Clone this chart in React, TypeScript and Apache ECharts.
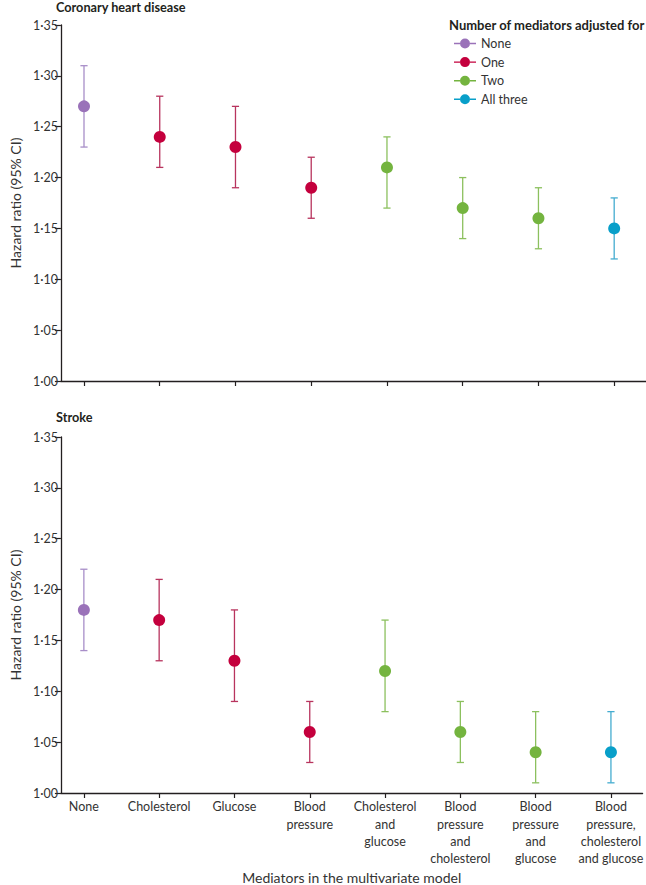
import React, { useEffect, useRef } from "react";
import * as echarts from "echarts";

const categories = [
  "None",
  "Cholesterol",
  "Glucose",
  "Blood\npressure",
  "Cholesterol\nand\nglucose",
  "Blood\npressure\nand\ncholesterol",
  "Blood\npressure\nand\nglucose",
  "Blood\npressure,\ncholesterol\nand glucose",
];
const groupOfCategory = [0, 1, 1, 1, 2, 2, 2, 3];
const groupNames = ["None", "One", "Two", "All three"];
const groupColors = ["#9a72b9", "#c4003d", "#74b43f", "#089fc9"];
const barColors = ["#a88ec8", "#b8345e", "#8cc05e", "#44acd0"];

const chdHR = [1.27, 1.24, 1.23, 1.19, 1.21, 1.17, 1.16, 1.15];
const chdLow = [1.23, 1.21, 1.19, 1.16, 1.17, 1.14, 1.13, 1.12];
const chdHigh = [1.31, 1.28, 1.27, 1.22, 1.24, 1.2, 1.19, 1.18];

const strokeHR = [1.18, 1.17, 1.13, 1.06, 1.12, 1.06, 1.04, 1.04];
const strokeLow = [1.14, 1.13, 1.09, 1.03, 1.08, 1.03, 1.01, 1.01];
const strokeHigh = [1.22, 1.21, 1.18, 1.09, 1.17, 1.09, 1.08, 1.08];

const FONT = "Lato";
const AXIS_COLOR = "#231f20";
const TEXT_COLOR = "#333333";

const legendIcon =
  "path://M0,4.3 L6,4.3 L6,5.7 L0,5.7 Z M16,4.3 L22,4.3 L22,5.7 L16,5.7 Z M11,0 A5,5 0 1,1 11,10 A5,5 0 1,1 11,0 Z";

function App() {
  const ref = useRef<HTMLDivElement>(null);

  useEffect(() => {
    if (!ref.current) return;
    const chart = echarts.init(ref.current, undefined, { renderer: "svg" });

    const panels = [
      { hr: chdHR, low: chdLow, high: chdHigh, showLabels: false },
      { hr: strokeHR, low: strokeLow, high: strokeHigh, showLabels: true },
    ];

    const xAxis = panels.map((p, i) => ({
      type: "value",
      gridIndex: i,
      min: -0.305,
      max: 7.42,
      splitLine: { show: false },
      axisLine: { show: true, onZero: false, lineStyle: { color: AXIS_COLOR, width: 1.3 } },
      axisTick: {
        show: true,
        length: 5,
        customValues: categories.map((_, k) => k),
        lineStyle: { color: AXIS_COLOR, width: 1.2 },
      },
      axisLabel: {
        show: p.showLabels,
        customValues: categories.map((_, k) => k),
        formatter: (v: number) => categories[Math.round(v)] ?? "",
        fontFamily: FONT,
        fontSize: 12.5,
        lineHeight: 17.4,
        color: TEXT_COLOR,
        margin: 5,
        align: "center",
      },
      name: p.showLabels ? "Mediators in the multivariate model" : "",
      nameLocation: "middle",
      nameGap: 77,
      nameTextStyle: { fontFamily: FONT, fontSize: 14, color: TEXT_COLOR },
    }));

    const yAxis = panels.map((_, i) => ({
      type: "value",
      gridIndex: i,
      min: 1.0,
      max: 1.35,
      interval: 0.05,
      splitLine: { show: false },
      axisLine: { show: true, onZero: false, lineStyle: { color: AXIS_COLOR, width: 1.3 } },
      axisTick: { show: true, length: 6, lineStyle: { color: AXIS_COLOR, width: 1.2 } },
      axisLabel: {
        fontFamily: FONT,
        fontSize: 12.5,
        color: TEXT_COLOR,
        margin: 3,
        formatter: (v: number) => v.toFixed(2).replace(".", "\u00b7"),
      },
      name: "Hazard ratio (95% CI)",
      nameLocation: "middle",
      nameRotate: 90,
      nameGap: 38,
      nameTextStyle: { fontFamily: FONT, fontSize: 14, color: TEXT_COLOR },
    }));

    const series: any[] = [];
    panels.forEach((p, i) => {
      series.push({
        type: "custom",
        xAxisIndex: i,
        yAxisIndex: i,
        silent: true,
        z: 1,
        data: categories.map((_, k) => [k, p.low[k], p.high[k], groupOfCategory[k]]),
        renderItem: (params: any, api: any) => {
          const x = api.value(0);
          const lo = api.coord([x, api.value(1)]);
          const hi = api.coord([x, api.value(2)]);
          const color = barColors[api.value(3)];
          const cap = 3.6;
          const style = { stroke: color, lineWidth: 1.3 };
          return {
            type: "group",
            children: [
              { type: "line", shape: { x1: lo[0], y1: lo[1], x2: hi[0], y2: hi[1] }, style },
              { type: "line", shape: { x1: hi[0] - cap, y1: hi[1], x2: hi[0] + cap, y2: hi[1] }, style },
              { type: "line", shape: { x1: lo[0] - cap, y1: lo[1], x2: lo[0] + cap, y2: lo[1] }, style },
            ],
          };
        },
      });
      groupNames.forEach((g, gi) => {
        series.push({
          type: "scatter",
          name: g,
          xAxisIndex: i,
          yAxisIndex: i,
          z: 3,
          symbol: "circle",
          symbolSize: 12,
          itemStyle: { color: groupColors[gi], opacity: 1 },
          data: categories
            .map((_, k) => (groupOfCategory[k] === gi ? [k, p.hr[k]] : null))
            .filter((d) => d !== null),
        });
      });
    });

    chart.setOption({
      animation: false,
      backgroundColor: "#ffffff",
      textStyle: { fontFamily: FONT },
      grid: [
        { left: 55, right: 0, top: 25, height: 356, containLabel: false },
        { left: 55, right: 0, top: 437, height: 357, containLabel: false },
      ],
      xAxis,
      yAxis,
      legend: {
        data: groupNames.map((n) => ({ name: n, icon: legendIcon })),
        orient: "vertical",
        left: 449,
        top: 32,
        itemWidth: 22,
        itemHeight: 10,
        itemGap: 5.6,
        selectedMode: false,
        textStyle: { fontFamily: FONT, fontSize: 12.5, color: TEXT_COLOR, lineHeight: 12 },
      },
      graphic: [
        {
          type: "text",
          left: 56,
          top: 0,
          style: {
            text: "Coronary heart disease",
            fontFamily: FONT,
            fontWeight: "bold",
            fontSize: 12.7,
            fill: "#231f20",
          },
        },
        {
          type: "text",
          left: 56,
          top: 410,
          style: {
            text: "Stroke",
            fontFamily: FONT,
            fontWeight: "bold",
            fontSize: 12.7,
            fill: "#231f20",
          },
        },
        {
          type: "text",
          left: 449,
          top: 18,
          style: {
            text: "Number of mediators adjusted for",
            fontFamily: FONT,
            fontWeight: "bold",
            fontSize: 13,
            fill: "#231f20",
          },
        },
      ],
      series,
    });

    return () => {
      chart.dispose();
    };
  }, []);

  return (
    <div
      ref={ref}
      style={{ position: "fixed", left: 0, top: 0, width: 646, height: 885, background: "#fff" }}
    />
  );
}

export default App;
